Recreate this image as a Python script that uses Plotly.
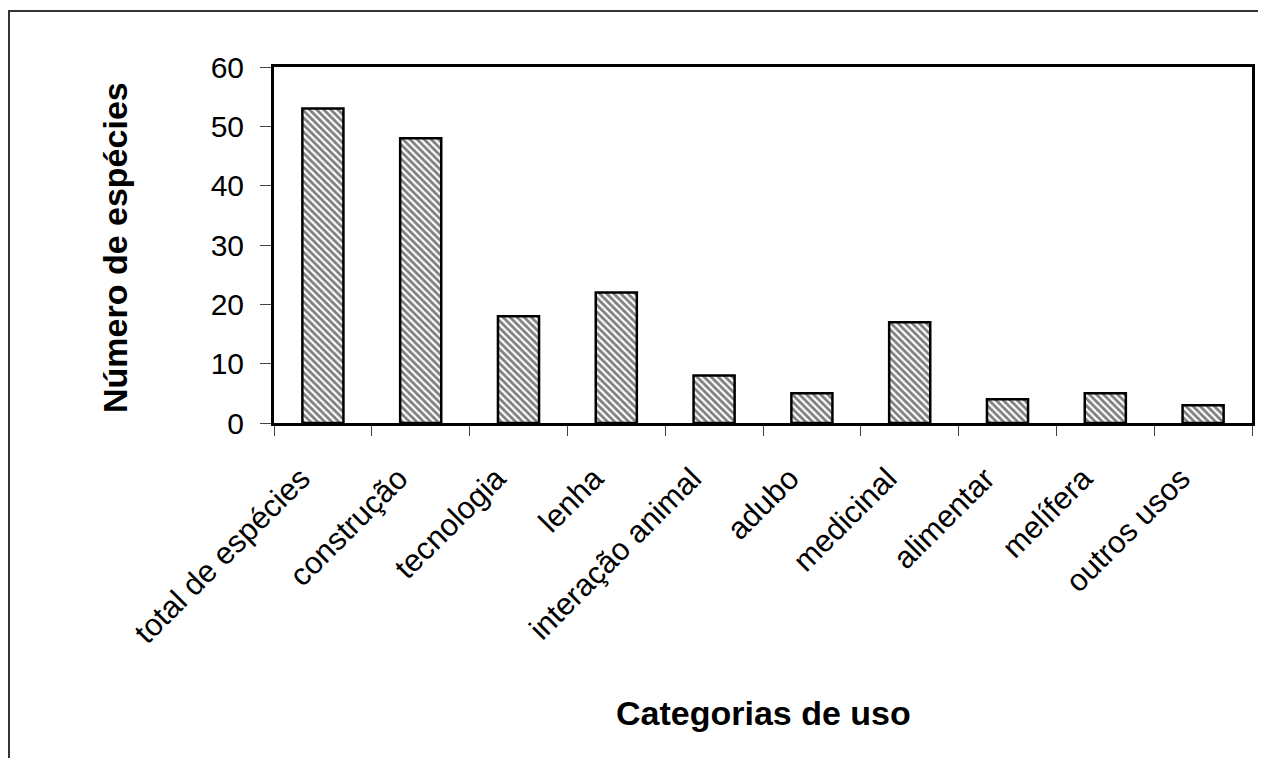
import plotly.graph_objects as go

categories = ["total de espécies", "construção", "tecnologia", "lenha", "interação animal",
              "adubo", "medicinal", "alimentar", "melífera", "outros usos"]
values = [53, 48, 18, 22, 8, 5, 17, 4, 5, 3]
y_ticks = [0, 10, 20, 30, 40, 50, 60]

# page has an 8px body margin; work in figure coordinates = reference - 8
OFF = 8
W, H = 1266 - OFF, 758 - OFF
L, R, T, B = 274 - OFF, 1252 - OFF, 67 - OFF, 423 - OFF

fig = go.Figure(go.Bar(
    x=categories, y=values,
    width=0.42,
    marker=dict(
        color="white",
        line=dict(color="black", width=2.5),
        pattern=dict(shape="\\", fgcolor="black", bgcolor="white", size=5, solidity=0.55),
    ),
))

font = "Liberation Sans, Arial, sans-serif"
fig.update_layout(
    width=W, height=H,
    margin=dict(l=L, r=W - R, t=T, b=H - B, pad=0),
    paper_bgcolor="white", plot_bgcolor="white",
    showlegend=False,
    font=dict(family=font, color="black", size=30),
    bargap=0.58,
    xaxis=dict(
        showline=True, linecolor="black", linewidth=3, mirror=True,
        ticks="outside", ticklen=10, tickcolor="#444", tickwidth=1,
        tickson="boundaries",
        tickangle=-45, tickfont=dict(size=31, family=font),
        ticklabelstandoff=22, ticklabelshift=-22,
        showgrid=False,
    ),
    yaxis=dict(
        range=[0, 60], tickvals=y_ticks,
        showline=True, linecolor="black", linewidth=3, mirror=True,
        ticks="outside", ticklen=11, tickcolor="#444", tickwidth=1,
        tickfont=dict(size=30, family=font), ticklabelstandoff=10,
        showgrid=False, zeroline=False,
    ),
)

pw, ph = R - L, B - T
def px(x): return (x - OFF - L) / pw
def py(y): return (B - (y - OFF)) / ph

fig.add_annotation(text="<b>Categorias de uso</b>", xref="paper", yref="paper",
                   x=px(763), y=py(713), xanchor="center", yanchor="middle",
                   showarrow=False, font=dict(size=34, family=font, color="black"))
fig.add_annotation(text="<b>Número de espécies</b>", xref="paper", yref="paper",
                   x=px(115), y=py(248), xanchor="center", yanchor="middle", textangle=-90,
                   showarrow=False, font=dict(size=34, family=font, color="black"))

fig.add_shape(type="line", xref="paper", yref="paper",
              x0=px(8), x1=px(1270), y0=py(11), y1=py(11),
              line=dict(color="#333", width=2))
fig.add_shape(type="line", xref="paper", yref="paper",
              x0=px(9), x1=px(9), y0=py(11), y1=py(762),
              line=dict(color="#333", width=2))

fig.write_html("out.html")
